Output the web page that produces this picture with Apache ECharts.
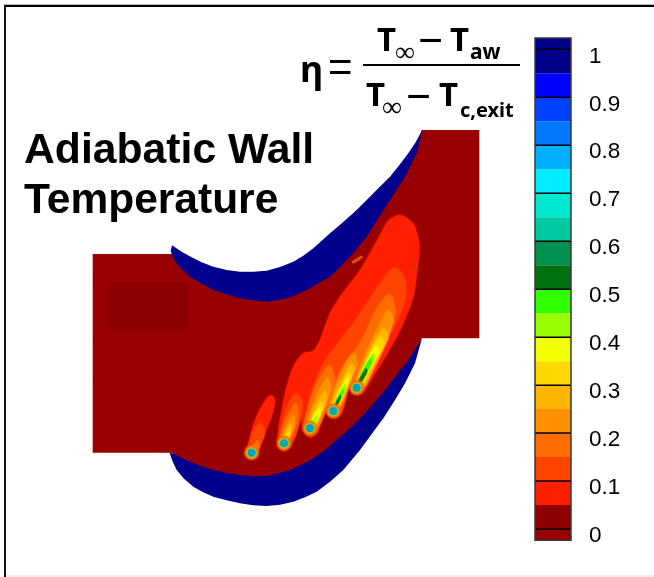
<!DOCTYPE html>
<html>
<head>
<meta charset="utf-8">
<style>
html,body{margin:0;padding:0;background:#fff}
#c{width:654px;height:577px;filter:blur(0.45px)}
</style>
<script src="https://cdn.jsdelivr.net/npm/echarts@6/dist/echarts.min.js"></script>
</head>
<body>
<div id="c"></div>
<script>
// ---------- colour scale (eta) ----------
var tickValues = [0,0.1,0.2,0.3,0.4,0.5,0.6,0.7,0.8,0.9,1];
var tickLabels = ['0','0.1','0.2','0.3','0.4','0.5','0.6','0.7','0.8','0.9','1'];
var bandEdges = [-0.0235,0,0.05,0.1,0.15,0.2,0.25,0.3,0.35,0.4,0.45,0.5,0.55,0.6,0.65,0.7,0.75,0.8,0.85,0.9,0.95,1,1.0239];
var bandColors = ['#990000','#8f0000','#ff2000','#ff4400','#ff6c00','#ff9000','#ffb400','#ffd800','#f2ff00','#98ff00','#30ff00','#007010','#009050','#00c8a0','#00e8d0','#00eeff','#00b0ff','#0078ff','#0040ff','#0000ff','#00008a','#00008a'];

// ---------- field geometry, in surface coordinates ----------
var domainOutline = [[38,402],[285,402],[350,450],[480,500],[560,500],[660,475],[760,405],[850,305],[930,205],[990,125],[1025,30],[1198,30],[1198,655],[1025,655],[960,785],[880,900],[790,1000],[700,1060],[600,1100],[480,1100],[380,1080],[300,1020],[275,998],[38,998]];
var darkPatch = [[85,485],[322,485],[322,630],[85,630]];
var upperBlade = [[276,376],[305,395],[335,412],[365,427],[400,440],[440,450],[480,455],[520,455],[560,452],[600,441],[640,425],[670,407],[700,385],[725,362],[750,340],[775,319],[800,297],[830,270],[860,240],[895,205],[930,170],[960,133],[985,100],[1006,68],[1026,32],[1018,68],[1010,100],[993,135],[975,170],[953,205],[930,240],[895,295],[860,350],[835,380],[810,410],[780,441],[750,470],[715,490],[680,510],[650,524],[620,535],[590,541],[560,545],[520,541],[480,535],[440,523],[400,510],[365,491],[330,470],[308,451],[290,430],[278,410],[272,392]];
var lowerBlade = [[268,996],[298,1010],[330,1025],[365,1039],[400,1050],[440,1059],[480,1065],[520,1068],[560,1068],[595,1060],[630,1050],[665,1034],[700,1015],[735,990],[770,960],[810,925],[850,885],[885,845],[915,810],[950,765],[985,720],[1026,655],[1005,730],[975,790],[945,840],[910,895],[880,935],[840,990],[790,1050],[750,1085],[710,1115],[675,1132],[640,1145],[600,1154],[560,1158],[520,1156],[480,1150],[440,1141],[400,1130],[368,1116],[340,1100],[312,1076],[290,1050],[277,1022]];

var level10 = [
  [[960,285],[1000,312],[1018,375],[1012,450],[1000,530],[970,610],[940,670],[905,730],[870,785],[852,815],[832,826],[815,818],[808,790],[797,840],[785,880],[762,895],[742,880],[735,845],[722,905],[712,940],[690,952],[670,932],[662,875],[652,930],[634,975],[612,993],[594,975],[595,930],[605,870],[620,800],[640,740],[670,700],[700,692],[720,660],[750,580],[780,530],[840,450],[900,345],[925,302]],
  [[572,825],[585,840],[575,890],[550,950],[530,1005],[515,1018],[500,1000],[510,950],[525,900],[550,850]]
];
var level15 = [
  [[942,443],[970,465],[978,510],[968,565],[945,615],[912,675],[882,730],[858,785],[840,815],[825,822],[815,800],[808,775],[797,830],[785,870],[762,888],[746,872],[738,825],[722,890],[712,930],[690,943],[675,925],[680,870],[700,800],[730,730],[765,680],[820,610],[860,550],[900,490]],
  [[650,820],[668,850],[660,905],[640,960],[612,988],[596,970],[608,905],[625,850]],
  [[540,910],[555,935],[542,975],[520,1012],[503,1000],[510,965],[522,930]]
];
var level20 = [
  [[928,522],[945,560],[940,610],[912,670],[885,725],[860,775],[843,808],[828,818],[817,800],[812,780],[797,825],[780,868],[762,882],[750,865],[770,780],[800,720],[830,685],[860,630],[890,565]],
  [[748,735],[765,780],[745,850],[720,915],[690,945],[672,925],[685,860],[710,790]],
  [[648,850],[655,885],[640,940],[615,980],[600,965],[615,900]],
  [[532,960],[538,980],[520,1010],[506,998]]
];
var level25 = [
  [[925,570],[940,600],[925,650],[900,710],[875,760],[855,800],[838,812],[822,800],[832,765],[850,715],[875,660],[900,610]],
  [[822,700],[832,725],[815,780],[795,830],[775,868],[760,882],[746,868],[760,815],[780,765],[800,725]],
  [[745,770],[752,810],[730,870],[708,925],[690,938],[678,920],[695,865],[718,810]],
  [[640,885],[645,910],[628,955],[612,978],[602,962],[618,920]],
  [[525,975],[530,985],[518,1003],[510,998]]
];
var level30 = [
  [[912,625],[925,650],[905,695],[880,745],[858,790],[840,805],[826,795],[840,755],[860,710],[885,660]],
  [[815,730],[822,750],[805,795],[785,845],[765,875],[752,865],[768,815],[790,770]],
  [[735,810],[740,840],[720,890],[702,930],[688,932],[685,915],[700,870]],
  [[632,910],[636,925],[622,960],[610,972],[606,958],[618,935]]
];
var level35 = [
  [[900,650],[912,670],[890,715],[868,755],[850,790],[836,790],[850,745],[870,700]],
  [[808,755],[812,772],[795,810],[778,850],[762,868],[756,860],[775,815],[792,785]],
  [[725,845],[728,868],[712,905],[698,925],[690,918],[702,885]],
  [[628,930],[630,945],[618,965],[610,960]]
];
var level40 = [
  [[888,680],[897,695],[875,735],[855,775],[840,790],[845,760],[865,715]],
  [[803,770],[806,785],[790,820],[775,852],[762,862],[772,830],[788,795]],
  [[718,865],[720,880],[705,910],[693,918],[700,890]]
];
var level45 = [
  [[880,700],[884,712],[863,750],[848,780],[838,785],[848,750],[865,720]],
  [[796,790],[798,802],[783,835],[770,860],[762,865],[772,835]],
  [[710,885],[710,900],[698,918],[692,918],[700,900]]
];
var level50 = [
  [[872,715],[875,730],[853,768],[842,788],[836,788],[846,758]],
  [[790,805],[790,818],[775,848],[764,865],[768,842]]
];
var level55 = [
  [[858,745],[862,755],[845,785],[834,795],[836,782]],
  [[782,825],[783,832],[770,860],[760,868],[766,850]]
];
var streakOrange = [[815,426],[845,407],[848,412],[822,430]];
var streakFaint = [[995,438],[1012,435],[1012,440],[998,442]];
var holes = [[515,998],[612,970],[690,925],[760,873],[830,803]];

var fieldLayers = [
  {name:'wall', color:'#990000', polys:[domainOutline], smooth:0, soft:0},
  {name:'patch', color:'#8e0000', polys:[darkPatch], smooth:0, soft:0},
  {name:'upper blade', color:'#00008c', polys:[upperBlade], smooth:0, soft:0},
  {name:'lower blade', color:'#00008c', polys:[lowerBlade], smooth:0, soft:0},
  {name:'0.1', color:'#ff2000', polys:level10, smooth:0.3, soft:2},
  {name:'0.15', color:'#ff4400', polys:level15, smooth:0.3, soft:2},
  {name:'0.2', color:'#ff6c00', polys:level20, smooth:0.3, soft:2},
  {name:'0.25', color:'#ff9000', polys:level25, smooth:0.3, soft:2},
  {name:'0.3', color:'#ffb400', polys:level30, smooth:0.3, soft:2},
  {name:'0.35', color:'#ffd800', polys:level35, smooth:0.3, soft:2},
  {name:'0.4', color:'#f2ff00', polys:level40, smooth:0.3, soft:2},
  {name:'0.45', color:'#98ff00', polys:level45, smooth:0.3, soft:1},
  {name:'0.5', color:'#30ff00', polys:level50, smooth:0.3, soft:1},
  {name:'0.55', color:'#107818', polys:level55, smooth:0.3, soft:1},
  {name:'streak', color:'#e85000', polys:[streakOrange], smooth:0.3, soft:1},
  {name:'streak2', color:'#b84000', polys:[streakFaint], smooth:0.3, soft:1}
];

function polySeries(layer){
  return {
    type:'custom', name:layer.name, coordinateSystem:'cartesian2d', xAxisIndex:0, yAxisIndex:0,
    silent:true, animation:false, clip:false,
    data:layer.polys.map(function(p,i){return [i];}),
    renderItem:function(params,api){
      var pts = layer.polys[params.dataIndex].map(function(q){return api.coord(q);});
      return {type:'polygon', shape:{points:pts, smooth:layer.smooth},
        style:{fill:layer.color, shadowBlur:layer.soft, shadowColor:layer.color}};
    }
  };
}
function holeSeries(size,color,blur){
  return {type:'scatter', xAxisIndex:0, yAxisIndex:0, silent:true, animation:false,
    data:holes, symbol:'circle', symbolSize:size, itemStyle:{color:color, opacity:1, shadowBlur:blur, shadowColor:color}};
}

var series = fieldLayers.map(polySeries).concat([
  holeSeries(14,'#ff6a00',3),
  holeSeries(10.5,'#b0c020',2),
  holeSeries(7.5,'#00a4bc',1),
  {
    type:'custom', name:'scale bands', xAxisIndex:1, yAxisIndex:1, silent:true, animation:false, clip:false,
    data:bandColors.map(function(c,i){return [i];}),
    renderItem:function(params,api){
      var i = params.dataIndex;
      var a = api.coord([0,bandEdges[i+1]]), b = api.coord([1,bandEdges[i]]);
      return {type:'rect', shape:{x:a[0],y:a[1],width:b[0]-a[0],height:b[1]-a[1]}, style:{fill:bandColors[i]}};
    }
  },
  {
    type:'custom', name:'scale ticks', xAxisIndex:1, yAxisIndex:1, silent:true, animation:false, clip:false, z:3,
    data:tickValues.map(function(v){return [v];}),
    renderItem:function(params,api){
      var v = tickValues[params.dataIndex];
      var a = api.coord([0,v]), b = api.coord([1,v]);
      return {type:'line', shape:{x1:a[0],y1:a[1],x2:b[0],y2:b[1]}, style:{stroke:'#000',lineWidth:1.5}};
    }
  },
  {
    type:'custom', name:'scale frame', xAxisIndex:1, yAxisIndex:1, silent:true, animation:false, clip:false, z:4,
    data:[[0]],
    renderItem:function(params,api){
      var a = api.coord([0,bandEdges[bandEdges.length-1]]), b = api.coord([1,bandEdges[0]]);
      return {type:'rect', shape:{x:a[0],y:a[1],width:b[0]-a[0],height:b[1]-a[1]}, style:{fill:'none',stroke:'#3a3a3a',lineWidth:1.5}};
    }
  }
]);

function label(t,x,y,size,weight,fam){
  return {type:'text', x:x, y:y, z:20, silent:true,
    style:{text:t, fill:'#000', font:(weight||'normal')+' '+size+'px '+(fam||'"Noto Sans"'), verticalAlign:'bottom'}};
}

var chart = echarts.init(document.getElementById('c'),null,{renderer:'canvas'});
chart.setOption({
  animation:false,
  backgroundColor:'#fff',
  grid:[
    {left:0,top:0,right:0,bottom:0},
    {left:535,width:36,top:1.38,height:577.44}
  ],
  xAxis:[
    {type:'value',min:-240,max:1722,show:false},
    {type:'value',gridIndex:1,min:0,max:1,show:false}
  ],
  yAxis:[
    {type:'value',min:-360,max:1371,inverse:true,show:false},
    {type:'value',gridIndex:1,min:-0.1,max:1.1,interval:0.1,position:'right',
     axisLine:{show:false},splitLine:{show:false},axisTick:{show:false},
     axisLabel:{show:true,customValues:tickValues,margin:18,fontSize:22.5,fontFamily:'"Liberation Sans"',color:'#000',verticalAlign:'top',lineHeight:14,
       formatter:function(v){var i=tickValues.findIndex(function(t){return Math.abs(t-v)<1e-6;});return i<0?'':tickLabels[i];}}
    }
  ],
  series:series,
  graphic:{elements:[
    {type:'rect',z:19,silent:true,shape:{x:4,y:4,width:650,height:1},style:{fill:'#bbb'}},
    {type:'rect',z:19,silent:true,shape:{x:4,y:5,width:650,height:2},style:{fill:'#000'}},
    {type:'rect',z:19,silent:true,shape:{x:4,y:5,width:2,height:572},style:{fill:'#111'}},
    {type:'rect',z:19,silent:true,shape:{x:6,y:575,width:648,height:2},style:{fill:'#eee'}},
    label('Adiabatic Wall',24,173,42.7,'bold','"Liberation Sans"'),
    label('Temperature',24,223,42.5,'bold','"Liberation Sans"'),
    label('\u03b7',300,90,36,'bold'),
    label('=',328,90,42,'normal','"Liberation Sans"'),
    {type:'rect',z:20,silent:true,shape:{x:363,y:64,width:157,height:2},style:{fill:'#000'}},
    label('T',377,58,33,'bold'),
    label('\u221e',395,67,28,'normal'),
    label('\u2212',418,65,44,'normal'),
    label('T',450,58,33,'bold'),
    label('aw',470,64,21,'bold'),
    label('T',366,113,33,'bold'),
    label('\u221e',382,122,28,'normal'),
    label('\u2212',406,121,44,'normal'),
    label('T',439,113,33,'bold'),
    label('c,exit',460,121,20,'bold')
  ]}
});
</script>
</body>
</html>
